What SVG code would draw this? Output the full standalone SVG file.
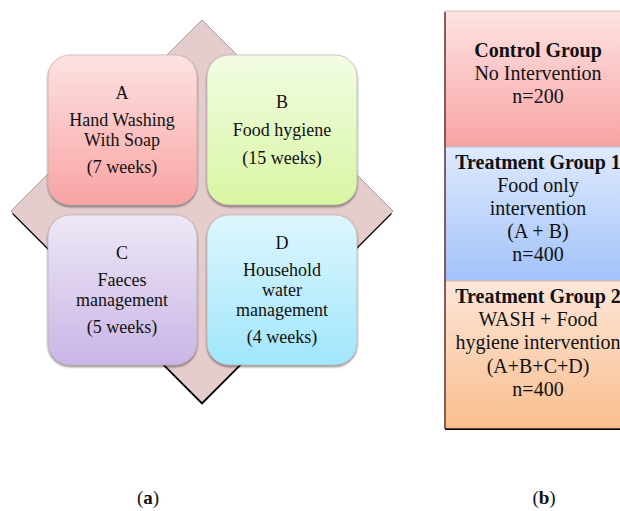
<svg xmlns="http://www.w3.org/2000/svg" width="620" height="511" viewBox="0 0 620 511">
<defs>
<linearGradient id="gA" x1="0" y1="0" x2="0" y2="1"><stop offset="0" stop-color="#fde2e2"/><stop offset="1" stop-color="#f9a3a3"/></linearGradient>
<linearGradient id="gB" x1="0" y1="0" x2="0" y2="1"><stop offset="0" stop-color="#f2fce4"/><stop offset="1" stop-color="#d8f6a2"/></linearGradient>
<linearGradient id="gC" x1="0" y1="0" x2="0" y2="1"><stop offset="0" stop-color="#eee8f6"/><stop offset="1" stop-color="#c9b5e6"/></linearGradient>
<linearGradient id="gD" x1="0" y1="0" x2="0" y2="1"><stop offset="0" stop-color="#def6fd"/><stop offset="1" stop-color="#a0e6fb"/></linearGradient>
<linearGradient id="gR" x1="0" y1="0" x2="0" y2="1"><stop offset="0" stop-color="#fde3e3"/><stop offset="1" stop-color="#f9a3a3"/></linearGradient>
<linearGradient id="gBl" x1="0" y1="0" x2="0" y2="1"><stop offset="0" stop-color="#dfeafd"/><stop offset="1" stop-color="#a2c2f9"/></linearGradient>
<linearGradient id="gO" x1="0" y1="0" x2="0" y2="1"><stop offset="0" stop-color="#fde6d8"/><stop offset="1" stop-color="#f9be8e"/></linearGradient>
<filter id="sh" x="-10%" y="-10%" width="120%" height="120%"><feDropShadow dx="0" dy="1.5" stdDeviation="1.2" flood-color="#000" flood-opacity="0.55"/></filter>
</defs>
<style>
text{font-family:"Liberation Serif","Times New Roman",serif;font-size:18px;fill:#111;text-anchor:middle}
.r{font-size:20px}
.b{font-weight:bold}
.cap{font-family:"Liberation Serif",serif;font-size:19px}
.box{stroke:#b9a9a9;stroke-width:0.6;filter:url(#sh)}
</style>
<g id="diamond">
<path d="M13 213 L202 403 L391 213" fill="none" stroke="#000" stroke-width="2.5"/>
<path d="M202 20 L393 211 L202 402 L11 211 Z" fill="#e6cdcd" stroke="#8a7a7a" stroke-width="0.7"/>
</g>
<g id="nodeA">
<rect class="box" x="48" y="55" width="149" height="150" rx="22" fill="url(#gA)"/>
<text x="122" y="99">A</text>
<text x="122" y="126">Hand Washing</text>
<text x="122" y="146">With Soap</text>
<text x="122" y="173">(7 weeks)</text>
</g>
<g id="nodeB">
<rect class="box" x="207" y="55" width="150" height="150" rx="22" fill="url(#gB)"/>
<text x="282" y="108">B</text>
<text x="282" y="136">Food hygiene</text>
<text x="282" y="164">(15 weeks)</text>
</g>
<g id="nodeC">
<rect class="box" x="48" y="215" width="149" height="150" rx="22" fill="url(#gC)"/>
<text x="122" y="259">C</text>
<text x="122" y="286">Faeces</text>
<text x="122" y="306">management</text>
<text x="122" y="333">(5 weeks)</text>
</g>
<g id="nodeD">
<rect class="box" x="207" y="215" width="150" height="150" rx="22" fill="url(#gD)"/>
<text x="282" y="249">D</text>
<text x="282" y="276">Household</text>
<text x="282" y="296">water</text>
<text x="282" y="316">management</text>
<text x="282" y="343">(4 weeks)</text>
</g>
<g id="groups">
<rect x="445" y="427" width="180" height="3" fill="#000"/>
<rect x="445" y="11" width="180" height="136" fill="url(#gR)" stroke="#e0a8a8" stroke-width="0.8"/>
<rect x="445" y="147" width="180" height="134" fill="url(#gBl)" stroke="#a9c0e8" stroke-width="0.8"/>
<rect x="445" y="281" width="180" height="147" fill="url(#gO)" stroke="#e8b48e" stroke-width="0.8"/>
<line x1="445" y1="12" x2="445" y2="429" stroke="#5a2a2a" stroke-width="1.4"/>
</g>
<g id="control">
<text class="r b" x="538" y="57">Control Group</text>
<text class="r" x="538" y="80">No Intervention</text>
<text class="r" x="538" y="103">n=200</text>
</g>
<g id="treat1">
<text class="r b" x="538" y="169">Treatment Group 1</text>
<text class="r" x="538" y="192">Food only</text>
<text class="r" x="538" y="215">intervention</text>
<text class="r" x="538" y="238">(A + B)</text>
<text class="r" x="538" y="261">n=400</text>
</g>
<g id="treat2">
<text class="r b" x="538" y="303">Treatment Group 2</text>
<text class="r" x="538" y="326">WASH + Food</text>
<text class="r" x="538" y="349">hygiene intervention</text>
<text class="r" x="538" y="373">(A+B+C+D)</text>
<text class="r" x="538" y="396">n=400</text>
</g>
<g id="captions">
<text class="cap" x="148" y="504">(<tspan font-weight="bold">a</tspan>)</text>
<text class="cap" x="544" y="504">(<tspan font-weight="bold">b</tspan>)</text>
</g>
</svg>
